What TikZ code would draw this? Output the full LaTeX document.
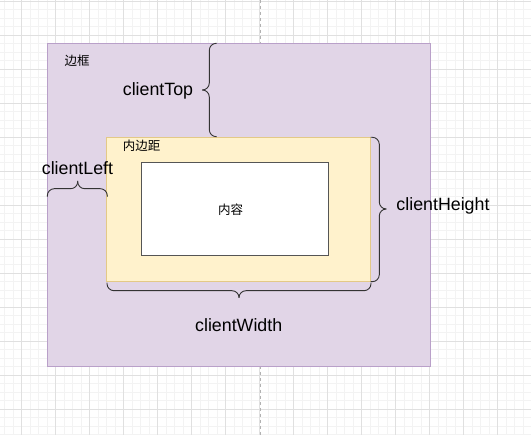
\documentclass[tikz,border=0pt]{standalone}
\usepackage{fontspec}
\setmainfont{Liberation Sans}
\newfontfamily\cjk{Noto Sans CJK SC}
\definecolor{bordfill}{HTML}{E1D5E7}
\definecolor{bordstroke}{HTML}{B9A0C9}
\definecolor{padfill}{HTML}{FFF2CC}
\definecolor{padstroke}{HTML}{E3C987}
\definecolor{contstroke}{HTML}{555555}
\definecolor{majorline}{HTML}{E0E0E0}
\definecolor{minorline}{HTML}{F3F3F3}
\newcommand\mybraceV[6]{% xend xspine xtip ytop ymid ybot
  \draw[bracestyle] (#1,#4) -- (#2,#4) -- (#2,#5) -- (#3,#5);
  \draw[bracestyle] (#3,#5) -- (#2,#5) -- (#2,#6) -- (#1,#6);}
\newcommand\mybraceH[6]{% yend yspine ytip xleft xmid xright
  \draw[bracestyle] (#4,#1) -- (#4,#2) -- (#5,#2) -- (#5,#3);
  \draw[bracestyle] (#5,#3) -- (#5,#2) -- (#6,#2) -- (#6,#1);}
\begin{document}
\begin{tikzpicture}[x=1pt,y=-1pt,
  minorgrid/.style={draw=minorline, line width=0.6pt},
  majorgrid/.style={draw=majorline, line width=0.9pt},
  pagebreak/.style={draw=black!30, dash pattern=on 3pt off 3pt, line width=0.7pt},
  borderbox/.style={draw=bordstroke, fill=bordfill, line width=1.4pt, inner sep=0pt,
    minimum width=383.1pt, minimum height=323.4pt},
  paddingbox/.style={draw=padstroke, fill=padfill, line width=1pt, inner sep=0pt,
    minimum width=264pt, minimum height=144.4pt},
  contentbox/.style={draw=contstroke, fill=white, line width=1pt, inner sep=0pt,
    minimum width=187pt, minimum height=93.7pt},
  bracestyle/.style={draw=black!80, line width=0.9pt, rounded corners=7pt},
  measure/.style={font=\fontsize{17.8}{21}\selectfont, text=black, inner sep=0pt},
  cjklabel/.style={font=\cjk\fontsize{12.5}{15}\selectfont, text=black, inner sep=0pt}
]
\useasboundingbox (0,0) rectangle (531,435);
\fill[white] (0,0) rectangle (531,435);
% grid
\foreach \i in {0,...,62} {\draw[minorgrid] ({4.3+8.5*\i},0) -- ({4.3+8.5*\i},435);}
\foreach \i in {0,...,51} {\draw[minorgrid] (0,{1.3+8.5*\i}) -- (531,{1.3+8.5*\i});}
\foreach \i in {0,...,15} {\draw[majorgrid] ({21.3+34*\i},0) -- ({21.3+34*\i},435);}
\foreach \i in {0,...,12} {\draw[majorgrid] (0,{1.3+34*\i}) -- (531,{1.3+34*\i});}
\draw[pagebreak] (260.5,0) -- (260.5,435);
% boxes
\node[borderbox] (border) at (238.85,205) {};
\node[paddingbox] (padding) at (238.7,209.5) {};
\node[contentbox] (content) at (234.8,209.15) {};
% labels
\node[cjklabel] (lborder) at (77,61) {边框};
\node[cjklabel] (lpadding) at (141.7,146) {内边距};
\node[cjklabel] (lcontent) at (230.5,209.5) {内容};
\node[measure] (ctop) at (158,91) {clientTop};
\node[measure] (cleft) at (77.5,168) {clientLeft};
\node[measure] (cheight) at (443,206) {clientHeight};
\node[measure] (cwidth) at (238.7,325) {clientWidth};
% braces
\mybraceV{216.7}{209.3}{202.3}{43.3}{90}{136.7}
\mybraceV{370.7}{379.3}{386}{137.3}{209}{281.7}
\mybraceH{196.7}{188.7}{181}{47.3}{77.7}{107.3}
\mybraceH{282.7}{290.7}{297.3}{107}{239}{371}
\end{tikzpicture}
\end{document}
